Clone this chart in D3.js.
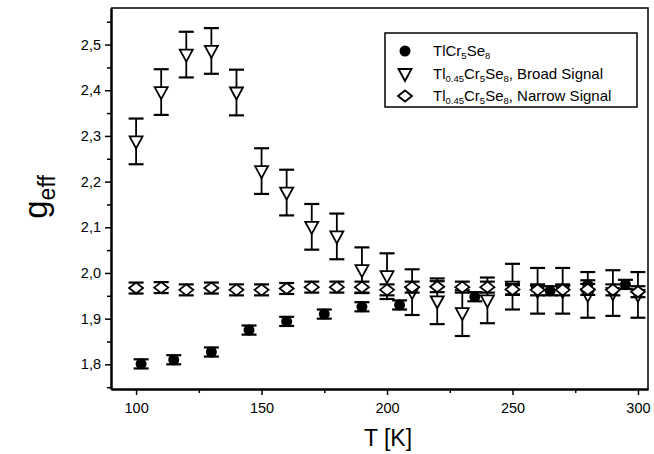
<!DOCTYPE html>
<html>
<head>
<meta charset="utf-8">
<script src="https://cdn.jsdelivr.net/npm/d3@7"></script>
<style>
  body { margin: 0; background: #fff; }
  svg text { font-family: "Liberation Sans", Arial, sans-serif; fill: #000; }
</style>
</head>
<body>
<div id="chart-area"></div>
<script>
// data
var tlT = [102, 115, 130, 145, 160, 175, 190, 205, 235, 250, 265, 280, 295];
var tlG = [1.801, 1.81, 1.827, 1.875, 1.894, 1.91, 1.926, 1.93, 1.948, 1.963, 1.961, 1.974, 1.975];
var tlErr = 0.01;

var broadT = [100, 110, 120, 130, 140, 150, 160, 170, 180, 190, 200, 210, 220, 230, 240, 250, 260, 270, 280, 290, 300];
var broadG = [2.288, 2.396, 2.478, 2.486, 2.395, 2.223, 2.176, 2.101, 2.08, 2.006, 1.993, 1.958, 1.938, 1.912, 1.94, 1.97, 1.961, 1.961, 1.952, 1.956, 1.952];
var broadErr = 0.05;

var narrowT = [100, 110, 120, 130, 140, 150, 160, 170, 180, 190, 200, 210, 220, 230, 240, 250, 260, 270, 280, 290, 300];
var narrowG = [1.967, 1.968, 1.963, 1.967, 1.963, 1.963, 1.966, 1.969, 1.969, 1.969, 1.963, 1.969, 1.97, 1.969, 1.969, 1.964, 1.963, 1.963, 1.964, 1.963, 1.959];
var narrowErr = 0.012;

var xTicks = [100, 150, 200, 250, 300];
var xMinor = [125, 175, 225, 275];
var yTicks = [1.8, 1.9, 2.0, 2.1, 2.2, 2.3, 2.4, 2.5];
var yMinor = [1.75, 1.85, 1.95, 2.05, 2.15, 2.25, 2.35, 2.45, 2.55];

var W = 654, H = 454;
// plot box (window.top is reserved, so prefixed names)
var pLeft = 111, pRight = 648, pTop = 8, pBottom = 389;

var svg = d3.select('#chart-area').append('svg')
    .attr('width', W)
    .attr('height', H);

var x = d3.scaleLinear().domain([90, 304]).range([pLeft, pRight]);
var y = d3.scaleLinear().domain([1.746, 2.58]).range([pBottom, pTop]);

var comma = function(d) { return d3.format('.1f')(d).replace('.', ','); };

// frame (top + right)
svg.append('path')
    .attr('d', 'M' + pLeft + ',' + pTop + 'H' + pRight + 'V' + pBottom)
    .attr('fill', 'none')
    .attr('stroke', '#000')
    .attr('stroke-width', 1.5);

// x axis
svg.append('g')
    .attr('transform', 'translate(0,' + pBottom + ')')
    .call(d3.axisBottom(x).tickValues(xTicks).tickSize(6).tickPadding(8).tickSizeOuter(0));
svg.append('g')
    .attr('transform', 'translate(0,' + pBottom + ')')
    .call(d3.axisBottom(x).tickValues(xMinor).tickSize(4).tickFormat('').tickSizeOuter(0));

// y axis
svg.append('g')
    .attr('transform', 'translate(' + pLeft + ',0)')
    .call(d3.axisLeft(y).tickValues(yTicks).tickSize(6).tickPadding(4).tickFormat(comma).tickSizeOuter(0));
svg.append('g')
    .attr('transform', 'translate(' + pLeft + ',0)')
    .call(d3.axisLeft(y).tickValues(yMinor).tickSize(4).tickFormat('').tickSizeOuter(0));

svg.selectAll('.domain').attr('stroke-width', 2);
svg.selectAll('.tick line').attr('stroke-width', 1.5);
svg.selectAll('.tick text').attr('font-size', 14.5).attr('font-family', '"Liberation Sans", Arial, sans-serif');

// axis titles
svg.append('text')
    .attr('x', 388)
    .attr('y', 446)
    .attr('text-anchor', 'middle')
    .attr('font-size', 23)
    .text('T [K]');

var gl = svg.append('text')
    .attr('transform', 'translate(47,197) rotate(-90)')
    .attr('text-anchor', 'middle')
    .attr('font-size', 33);
gl.append('tspan').text('g');
gl.append('tspan').attr('font-size', 23).attr('dy', 8).text('eff');

// error bars
function errorBars(ts, gs, err, cap) {
    var g = svg.append('g').attr('stroke', '#000').attr('stroke-width', 1.8).attr('fill', 'none');
    ts.forEach(function(t, i) {
        var cx = x(t), y1 = y(gs[i] + err), y2 = y(gs[i] - err);
        g.append('line').attr('x1', cx).attr('x2', cx).attr('y1', y1).attr('y2', y2);
        g.append('line').attr('x1', cx - cap / 2).attr('x2', cx + cap / 2).attr('y1', y1).attr('y2', y1).attr('stroke-width', 2.2);
        g.append('line').attr('x1', cx - cap / 2).attr('x2', cx + cap / 2).attr('y1', y2).attr('y2', y2).attr('stroke-width', 2.2);
    });
}

var triPath = 'M-6.5,-5L6.5,-5L0,7Z';
var diaPath = 'M-7,0L0,-5.5L7,0L0,5.5Z';

errorBars(tlT, tlG, tlErr, 15);
svg.append('g').selectAll('circle')
    .data(tlT)
    .enter().append('circle')
    .attr('cx', function(d) { return x(d); })
    .attr('cy', function(d, i) { return y(tlG[i]); })
    .attr('r', 5.5)
    .attr('fill', '#000');

errorBars(broadT, broadG, broadErr, 15);
svg.append('g').selectAll('path')
    .data(broadT)
    .enter().append('path')
    .attr('d', triPath)
    .attr('transform', function(d, i) { return 'translate(' + x(d) + ',' + y(broadG[i]) + ')'; })
    .attr('fill', '#fff')
    .attr('stroke', '#000')
    .attr('stroke-width', 1.8);

errorBars(narrowT, narrowG, narrowErr, 15);
svg.append('g').selectAll('path')
    .data(narrowT)
    .enter().append('path')
    .attr('d', diaPath)
    .attr('transform', function(d, i) { return 'translate(' + x(d) + ',' + y(narrowG[i]) + ')'; })
    .attr('fill', '#fff')
    .attr('stroke', '#000')
    .attr('stroke-width', 1.8);

// legend
var lg = svg.append('g');
lg.append('rect')
    .attr('x', 385).attr('y', 33)
    .attr('width', 252).attr('height', 74)
    .attr('fill', '#fff')
    .attr('stroke', '#000')
    .attr('stroke-width', 1.5);

var rows = [
    { y: 51, parts: [['TlCr', 0], ['5', 1], ['Se', 0], ['8', 1]] },
    { y: 74, parts: [['Tl', 0], ['0.45', 1], ['Cr', 0], ['5', 1], ['Se', 0], ['8', 1], [', Broad Signal', 0]] },
    { y: 96, parts: [['Tl', 0], ['0.45', 1], ['Cr', 0], ['5', 1], ['Se', 0], ['8', 1], [', Narrow Signal', 0]] }
];
lg.append('circle').attr('cx', 405).attr('cy', rows[0].y).attr('r', 5.5).attr('fill', '#000');
lg.append('path').attr('d', triPath).attr('transform', 'translate(405,' + rows[1].y + ')')
    .attr('fill', '#fff').attr('stroke', '#000').attr('stroke-width', 1.8);
lg.append('path').attr('d', diaPath).attr('transform', 'translate(405,' + rows[2].y + ')')
    .attr('fill', '#fff').attr('stroke', '#000').attr('stroke-width', 1.8);

rows.forEach(function(r) {
    var t = lg.append('text').attr('x', 433).attr('y', r.y + 5).attr('font-size', 15);
    var sub = false;
    r.parts.forEach(function(p) {
        var s = t.append('tspan').text(p[0]);
        if (p[1] && !sub) { s.attr('font-size', 9.5).attr('dy', 3); sub = true; }
        else if (p[1] && sub) { s.attr('font-size', 9.5); }
        else if (!p[1] && sub) { s.attr('dy', -3); sub = false; }
    });
});
</script>
</body>
</html>
